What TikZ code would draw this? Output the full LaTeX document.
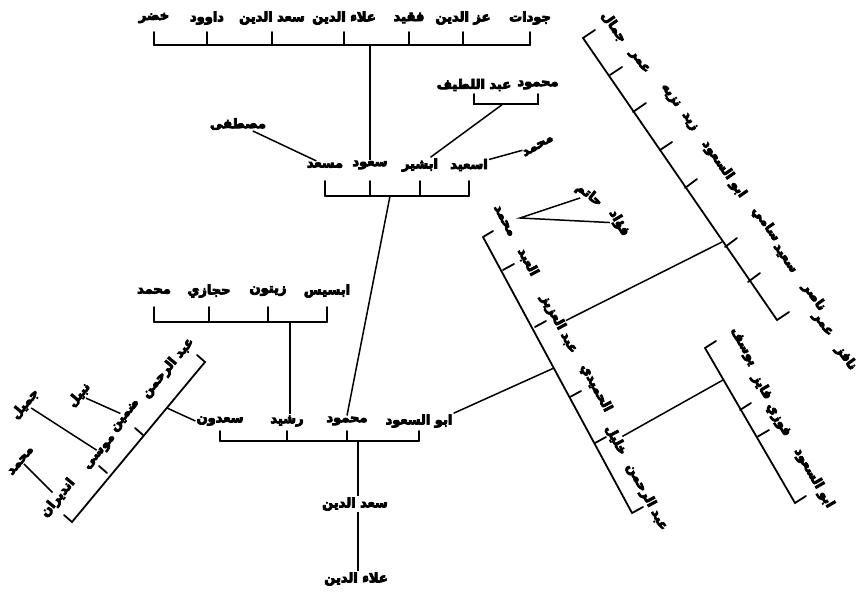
\documentclass[tikz,border=0pt]{standalone}
\usepackage{fontspec}
\newfontfamily\arabicfont[Script=Arabic]{DejaVu Sans}
\TeXXeTstate=1
% heavy strokes, as in the scan
\newcommand{\heavyon}{\special{pdf:literal direct 2 Tr 0.85 w}}
\newcommand{\heavyoff}{\special{pdf:literal direct 0 Tr}}
\newcommand{\ar}[1]{{\arabicfont\bfseries\heavyon\beginR #1\endR\heavyoff}}
\tikzset{
  nm/.style={inner sep=1pt, font=\fontsize{13}{13}\selectfont},
  brk/.style={line width=1.8pt, line cap=round},
  lnk/.style={line width=1.5pt},
}

\begin{document}
\begin{tikzpicture}[x=1pt,y=1pt,yscale=-1]
%frame of the scan, 863 x 596
\useasboundingbox (0,0) rectangle (863,596);

% Text Node: top row
\node[nm] (khadr) at (154,18) {\ar{خضر}};
\node[nm] (dawud) at (207,18) {\ar{داوود}};
\node[nm] (saadA) at (272,18) {\ar{سعد الدين}};
\node[nm] (alaaA) at (344,18) {\ar{علاء الدين}};
\node[nm] (faqid) at (409,18) {\ar{فقيد}};
\node[nm] (izz) at (463,18) {\ar{عز الدين}};
\node[nm] (jawdat) at (530,18) {\ar{جودات}};
%Straight Lines: top bracket
\coordinate (tbar) at (0,45);
\coordinate (ttop) at (0,32);
\draw[brk] (khadr |- tbar) -- (jawdat |- tbar);
\foreach \n in {khadr,dawud,saadA,alaaA,faqid,izz,jawdat}
  \draw[brk] (\n |- ttop) -- (\n |- tbar);

% Text Node: middle row
\node[nm] (masad) at (325,165) {\ar{مسعد}};
\node[nm] (suud) at (370,165) {\ar{سعود}};
\node[nm] (ibshir) at (420,165) {\ar{ابشير}};
\node[nm] (isaid) at (469,165) {\ar{اسعيد}};
\coordinate (mbar) at (0,196);
\coordinate (mtop) at (0,181);
\draw[brk] (masad |- mbar) -- (isaid |- mbar);
\foreach \n in {masad,suud,ibshir,isaid}
  \draw[brk] (\n |- mtop) -- (\n |- mbar);
\draw[lnk] (suud.north) -- (suud |- tbar);

% Text Node
\node[nm] (mustafa) at (238,124) {\ar{مصطفى}};
\draw[lnk] (mustafa) -- (masad);
% Text Node
\node[nm] (abdlatif) at (474,85) {\ar{عبد اللطيف}};
\node[nm] (mahA) at (538,85) {\ar{محمود}};
\coordinate (lbar) at (0,104);
\coordinate (ltop) at (0,94);
\draw[brk] (abdlatif |- ltop) -- (abdlatif |- lbar) -- (mahA |- lbar) -- (mahA |- ltop);
\coordinate (lfoot) at (503,104);
\draw[lnk] (ibshir) -- (lfoot);
% Text Node
\node[nm, rotate=30] (muhA) at (538,146) {\ar{محمد}};
\draw[lnk] (isaid) -- (muhA);

% Text Node: bottom row
\node[nm] (saadun) at (220,421) {\ar{سعدون}};
\node[nm] (rashid) at (287,421) {\ar{رشيد}};
\node[nm] (mahmud) at (347,421) {\ar{محمود}};
\node[nm] (abusaud) at (419,421) {\ar{ابو السعود}};
\coordinate (bbar) at (0,441);
\coordinate (btop) at (0,431);
\draw[brk] (saadun |- bbar) -- (abusaud |- bbar);
\foreach \n in {saadun,rashid,mahmud,abusaud}
  \draw[brk] (\n |- btop) -- (\n |- bbar);
\coordinate (mfoot) at (390,196);
\draw[lnk] (mfoot) -- (mahmud.north);

% Text Node: trunk
\node[nm] (saadB) at (355,504) {\ar{سعد الدين}};
\node[nm] (alaaB) at (356,579) {\ar{علاء الدين}};
\coordinate (bfoot) at (358,441);
\draw[lnk] (bfoot) -- (saadB.north -| bfoot);
\draw[lnk] (saadB.south -| bfoot) -- (alaaB.north -| bfoot);

% Text Node: children of rashid
\node[nm] (muhB) at (154,291) {\ar{محمد}};
\node[nm] (hijazi) at (209,291) {\ar{حجازي}};
\node[nm] (zaytun) at (268,291) {\ar{زيتون}};
\node[nm] (ibsis) at (327,291) {\ar{ابسيس}};
\coordinate (rbar) at (0,322);
\coordinate (rtop) at (0,307);
\draw[brk] (muhB |- rbar) -- (ibsis |- rbar);
\foreach \n in {muhB,hijazi,zaytun,ibsis}
  \draw[brk] (\n |- rtop) -- (\n |- rbar);
\coordinate (rfoot) at (290,322);
\draw[lnk] (rfoot) -- (rashid.north -| rfoot);

% Text Node: children of saadun
\node[nm, rotate=50] (abdrahA) at (168,368) {\ar{عبد الرحمن}};
\node[nm, rotate=50] (zamin) at (126,416) {\ar{ضمين}};
\node[nm, rotate=50] (musa) at (101,453) {\ar{موسى}};
\node[nm, rotate=50] (andiran) at (58,498) {\ar{انديران}};
%Straight Lines: left bracket
\draw[brk] (197,355) -- (205,362) -- (72,522) -- (64,515);
\draw[brk] (143,435) -- (135,428);
\draw[brk] (107,473) -- (99,466);
\coordinate (sfoot) at (167,408);
\draw[lnk] (sfoot) -- (saadun.west);
% Text Node
\node[nm, rotate=50] (nabil) at (79,395) {\ar{نبيل}};
\node[nm, rotate=50] (jamilA) at (25,404) {\ar{جميل}};
\node[nm, rotate=50] (muhC) at (21,461) {\ar{محمد}};
\draw[lnk] (nabil) -- (zamin);
\draw[lnk] (jamilA) -- (musa);
\draw[lnk] (muhC) -- (andiran);

% Text Node: children of abusaud
\node[nm, rotate=-62] (muhD) at (504,221) {\ar{محمد}};
\node[nm, rotate=-62] (abd) at (528,262) {\ar{العبد}};
\node[nm, rotate=-62] (aziz) at (559,324) {\ar{عبد العزيز}};
\node[nm, rotate=-62] (humaydi) at (596,388) {\ar{الحميدي}};
\node[nm, rotate=-62] (khalil) at (616,440) {\ar{خليل}};
\node[nm, rotate=-62] (abdrahB) at (647,497) {\ar{عبد الرحمن}};
%Straight Lines: middle bracket
\draw[brk] (493,231) -- (483,237) -- (632,513) -- (643,507);
\draw[brk] (503,270) -- (514,264);
\draw[brk] (535,327) -- (546,321);
\draw[brk] (570,397) -- (581,391);
\draw[brk] (595,443) -- (606,437);
\coordinate (afoot) at (554,368);
\draw[lnk] (abusaud.north east) -- (afoot);
% Text Node
\node[nm, rotate=-38] (hatim) at (589,195) {\ar{حاتم}};
\node[nm, rotate=-60] (fuad) at (619,223) {\ar{فؤاد}};
\coordinate (hfork) at (520,218);
\draw[lnk] (hatim) -- (hfork) -- (fuad);

% Text Node: children of aziz
\node[nm, rotate=-55] (jamal) at (614,27) {\ar{جمال}};
\node[nm, rotate=-55] (umarA) at (639,62) {\ar{عمر}};
\node[nm, rotate=-55] (nazih) at (670,96) {\ar{نزيه}};
\node[nm, rotate=-55] (zayd) at (689,122) {\ar{زيد}};
\node[nm, rotate=-55] (abusaudB) at (724,169) {\ar{ابو السعود}};
\node[nm, rotate=-55] (sami) at (766,224) {\ar{سامي}};
\node[nm, rotate=-55] (said) at (784,259) {\ar{سعيد}};
\node[nm, rotate=-55] (nasir) at (814,297) {\ar{ناصر}};
\node[nm, rotate=-55] (umarB) at (822,325) {\ar{عمر}};
\node[nm, rotate=-55] (nafiz) at (846,358) {\ar{نافز}};
%Straight Lines: far right bracket
\draw[brk] (595,30) -- (583,38) -- (777,320) -- (789,312);
\draw[brk] (610,75) -- (622,67);
\draw[brk] (633,112) -- (646,103);
\draw[brk] (660,150) -- (672,142);
\draw[brk] (685,188) -- (697,179);
\draw[brk] (725,247) -- (737,238);
\draw[brk] (748,282) -- (760,273);
\coordinate (zfoot) at (722,242);
\draw[lnk] (aziz) -- (zfoot);

% Text Node: children of khalil
\node[nm, rotate=-60] (yusuf) at (743,347) {\ar{يوسف}};
\node[nm, rotate=-60] (fayiz) at (762,387) {\ar{فايز}};
\node[nm, rotate=-60] (fawzi) at (778,420) {\ar{فوزي}};
\node[nm, rotate=-60] (abusaudC) at (814,478) {\ar{ابو السعود}};
%Straight Lines: small right bracket
\draw[brk] (716,341) -- (705,348) -- (795,503) -- (806,496);
\draw[brk] (740,410) -- (751,403);
\draw[brk] (757,437) -- (769,430);
\coordinate (kfoot) at (723,380);
\draw[lnk] (khalil) -- (kfoot);

\end{tikzpicture}
\end{document}
